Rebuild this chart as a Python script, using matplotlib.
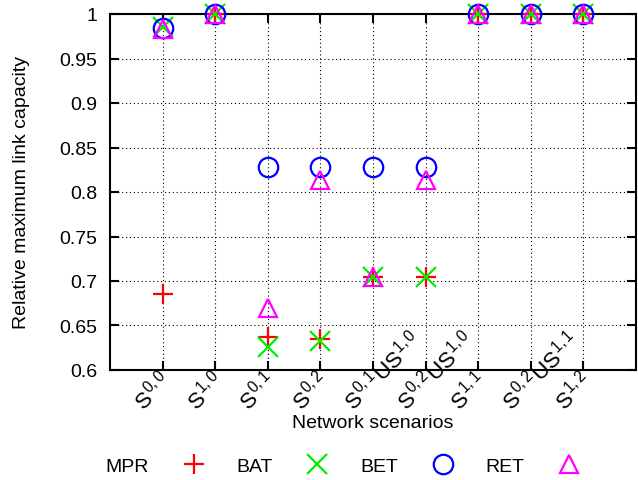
import numpy as np
import matplotlib
matplotlib.use('Agg')
import matplotlib.pyplot as plt
from matplotlib.transforms import ScaledTranslation

plt.rcParams['font.family'] = ['Liberation Sans', 'DejaVu Sans']
plt.rcParams['mathtext.fontset'] = 'custom'
plt.rcParams['mathtext.rm'] = 'Liberation Sans'
plt.rcParams['mathtext.it'] = 'Liberation Sans'

# scenarios on the x axis
scenarios = [r'$S^{0,0}$', r'$S^{1,0}$', r'$S^{0,1}$', r'$S^{0,2}$',
             r'$S^{0,1}US^{1,0}$', r'$S^{0,2}US^{1,0}$',
             r'$S^{1,1}$', r'$S^{0,2}US^{1,1}$', r'$S^{1,2}$']

# relative max link capacity per method
mpr = [0.685, 1.0, 0.637, 0.635, 0.705, 0.704, 1.0, 1.0, 1.0]
bat = [0.985, 1.0, 0.626, 0.633, 0.705, 0.704, 1.0, 1.0, 1.0]
bet = [0.984, 1.0, 0.828, 0.828, 0.828, 0.828, 1.0, 1.0, 1.0]
ret = [0.983, 1.0, 0.670, 0.814, 0.704, 0.814, 1.0, 1.0, 1.0]

yticks = [0.6, 0.65, 0.7, 0.75, 0.8, 0.85, 0.9, 0.95, 1.0]
ytick_labels = ['0.6', '0.65', '0.7', '0.75', '0.8', '0.85', '0.9', '0.95', '1']

fs = 14
fig = plt.figure(figsize=(6.38, 4.81), dpi=100)
ax = fig.add_axes([110/638, 1 - 371/481, 526/638, 356/481])

x = np.arange(1, len(scenarios) + 1)
styles = [('MPR', mpr, '+', '#ff0000', 15),
          ('BAT', bat, 'x', '#00ee00', 14),
          ('BET', bet, 'o', '#0000ff', 14),
          ('RET', ret, '^', '#ff00ff', 13)]
for name, vals, m, c, ms in styles:
    kw = dict(markerfacecolor='none') if m in 'o^' else {}
    ax.plot(x, vals, linestyle='none', marker=m, color=c, markersize=ms,
            markeredgewidth=1.6, label=name, clip_on=False, zorder=3, **kw)

ax.set_xlim(0, 10)
ax.set_ylim(0.6, 1.0)
ax.set_yticks(yticks)
ax.set_yticklabels(ytick_labels, fontsize=fs)
ax.set_xticks(x)
ax.set_xticklabels(scenarios, fontsize=16, rotation=45, rotation_mode='anchor',
                   ha='left', va='baseline')

ax.tick_params(direction='in', length=6.5, width=1.5, top=True, right=True)
ax.tick_params(axis='y', pad=9)
ax.tick_params(axis='x', pad=0)
offset = ScaledTranslation(-0.19, -0.41, fig.dpi_scale_trans)
for lab in ax.xaxis.get_majorticklabels():
    lab.set_transform(lab.get_transform() + offset)

for sp in ax.spines.values():
    sp.set_linewidth(1.5)
ax.grid(True, color='black', linestyle=(0, (1, 2.5)), linewidth=0.8)
ax.set_axisbelow(True)

ax.set_xlabel('Network scenarios', fontsize=fs)
ax.xaxis.set_label_coords(0.5, -0.125)
ax.set_ylabel('Relative maximum link capacity', fontsize=fs, labelpad=21)

fig.legend(loc='center', bbox_to_anchor=(0.544, 1 - 467/481), ncol=4,
           markerfirst=False, frameon=False, fontsize=fs, handlelength=2,
           handletextpad=1.3, columnspacing=1.2)

fig.savefig('out.png', dpi=100)
